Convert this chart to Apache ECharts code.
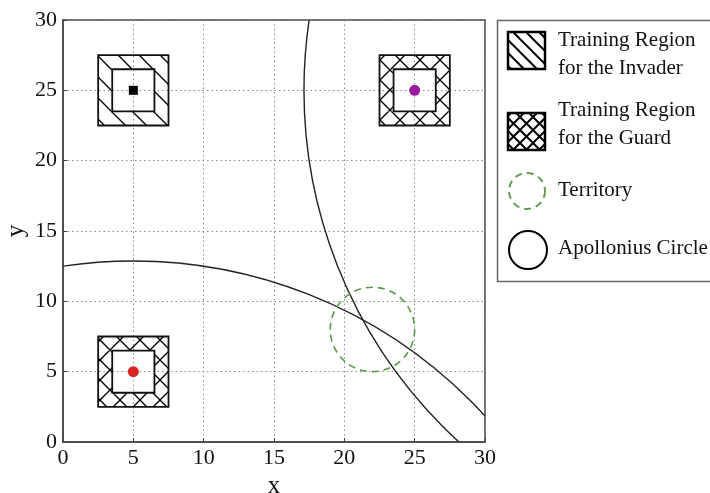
<!DOCTYPE html>
<html>
<head>
<meta charset="utf-8">
<script src="https://cdn.jsdelivr.net/npm/echarts@6/dist/echarts.min.js"></script>
<style>
html,body{margin:0;padding:0;background:#fff;}
#chart{width:710px;height:493px;}
</style>
</head>
<body>
<div id="chart"></div>
<script>
// ---- data ----
const axisTicks = [0, 5, 10, 15, 20, 25, 30];
const regionCenterX = [5, 25, 5];
const regionCenterY = [25, 25, 5];
const regionOuterHalf = [2.5, 2.5, 2.5];
const regionInnerHalf = [1.5, 1.5, 1.5];
const regionHatch = ['single', 'cross', 'cross'];
const agentX = [5, 25, 5];
const agentY = [25, 25, 5];
const agentColor = ['#000000', '#9b1c9b', '#d92424'];
const agentShape = ['rect', 'circle', 'circle'];
const territoryCenter = [22, 8];
const territoryRadius = [3];
const apolloniusCenterX = [5, 51];
const apolloniusCenterY = [-21, 25];
const apolloniusRadius = [33.87, 33.87];
const legendLabels = ['Training Region\nfor the Invader', 'Training Region\nfor the Guard', 'Territory', 'Apollonius Circle'];

const FONT = 'Liberation Serif';

function makePattern(step, cross, lw) {
  const c = document.createElement('canvas');
  c.width = step; c.height = step;
  const ctx = c.getContext('2d');
  ctx.strokeStyle = '#000';
  ctx.lineWidth = lw;
  for (const k of [-step, 0, step]) {
    ctx.beginPath(); ctx.moveTo(k - 1, -1); ctx.lineTo(k + step + 1, step + 1); ctx.stroke();
    if (cross) {
      ctx.beginPath(); ctx.moveTo(k + step + 1, -1); ctx.lineTo(k - 1, step + 1); ctx.stroke();
    }
  }
  return { image: c, repeat: 'repeat' };
}
const patSingle = makePattern(21, false, 1.3);
const patCross = makePattern(20, true, 1.3);
const patSingleL = makePattern(13, false, 2);
const patCrossL = makePattern(13, true, 2);

const chart = echarts.init(document.getElementById('chart'), null, { renderer: 'canvas' });

const regionData = regionCenterX.map((x, i) => [x, regionCenterY[i], regionOuterHalf[i], regionInnerHalf[i], i]);

function renderRegion(params, api) {
  const cx = api.value(0), cy = api.value(1), ho = api.value(2), hi = api.value(3), idx = api.value(4);
  const tl = api.coord([cx - ho, cy + ho]);
  const br = api.coord([cx + ho, cy - ho]);
  const itl = api.coord([cx - hi, cy + hi]);
  const ibr = api.coord([cx + hi, cy - hi]);
  const pat = regionHatch[idx] === 'cross' ? patCross : patSingle;
  const strips = [
    [tl[0], tl[1], br[0] - tl[0], itl[1] - tl[1]],
    [tl[0], ibr[1], br[0] - tl[0], br[1] - ibr[1]],
    [tl[0], itl[1], itl[0] - tl[0], ibr[1] - itl[1]],
    [ibr[0], itl[1], br[0] - ibr[0], ibr[1] - itl[1]]
  ];
  const children = strips.map(s => ({ type: 'rect', shape: { x: s[0], y: s[1], width: s[2], height: s[3] }, style: { fill: pat, stroke: null } }));
  children.push({ type: 'rect', shape: { x: tl[0], y: tl[1], width: br[0] - tl[0], height: br[1] - tl[1] }, style: { fill: null, stroke: '#111', lineWidth: 1.8 } });
  children.push({ type: 'rect', shape: { x: itl[0], y: itl[1], width: ibr[0] - itl[0], height: ibr[1] - itl[1] }, style: { fill: null, stroke: '#111', lineWidth: 1.8 } });
  return { type: 'group', children };
}

function circleRenderer(stroke, dash, lw) {
  return function (params, api) {
    const c = api.coord([api.value(0), api.value(1)]);
    const r = api.size([api.value(2), 0])[0];
    return { type: 'circle', shape: { cx: c[0], cy: c[1], r }, style: { fill: null, stroke, lineWidth: lw, lineDash: dash } };
  };
}

const apolloniusData = apolloniusCenterX.map((x, i) => [x, apolloniusCenterY[i], apolloniusRadius[i]]);
const territoryData = [[territoryCenter[0], territoryCenter[1], territoryRadius[0]]];

const axisCommon = {
  type: 'value', min: 0, max: 30, interval: 5,
  axisLine: { show: true, onZero: false, lineStyle: { color: '#444', width: 1.5 } },
  axisTick: { show: true, inside: true, length: 4, lineStyle: { color: '#444' } },
  axisLabel: { color: '#111', fontFamily: FONT, fontSize: 22, formatter: v => axisTicks.includes(v) ? String(v) : '' },
  splitLine: { show: true, lineStyle: { color: '#888', type: [1.5, 3], width: 1 } },
  nameTextStyle: { color: '#111', fontFamily: FONT, fontSize: 25 }
};

const lx = 508, lw = 37;
const graphic = [
  { type: 'rect', shape: { x: 497.5, y: 20.5, width: 230, height: 261 }, style: { fill: '#fff', stroke: '#666', lineWidth: 1.5 }, z: 1 },
  { type: 'rect', shape: { x: lx, y: 32, width: lw, height: 37 }, style: { fill: patSingleL, stroke: '#000', lineWidth: 2.5 }, z: 2 },
  { type: 'rect', shape: { x: lx, y: 113, width: lw, height: 37 }, style: { fill: patCrossL, stroke: '#000', lineWidth: 2.5 }, z: 2 },
  { type: 'circle', shape: { cx: 527, cy: 191, r: 18 }, style: { fill: null, stroke: '#6a9a55', lineWidth: 2, lineDash: [7, 5] }, z: 2 },
  { type: 'circle', shape: { cx: 528, cy: 250, r: 19 }, style: { fill: null, stroke: '#000', lineWidth: 2 }, z: 2 },
  { type: 'text', x: 558, y: 54, style: { text: legendLabels[0], fontFamily: FONT, fontSize: 21, fill: '#111', lineHeight: 28, verticalAlign: 'middle' }, z: 2 },
  { type: 'text', x: 558, y: 124, style: { text: legendLabels[1], fontFamily: FONT, fontSize: 21, fill: '#111', lineHeight: 28, verticalAlign: 'middle' }, z: 2 },
  { type: 'text', x: 558, y: 190, style: { text: legendLabels[2], fontFamily: FONT, fontSize: 21, fill: '#111', verticalAlign: 'middle' }, z: 2 },
  { type: 'text', x: 558, y: 248, style: { text: legendLabels[3], fontFamily: FONT, fontSize: 21, fill: '#111', verticalAlign: 'middle' }, z: 2 }
];

chart.setOption({
  animation: false,
  backgroundColor: '#fff',
  grid: { left: 63, top: 20, width: 422, height: 422, containLabel: false, outerBoundsMode: 'none', show: true, borderColor: '#444', borderWidth: 1.5, backgroundColor: 'transparent' },
  xAxis: Object.assign({}, axisCommon, { name: 'x', nameLocation: 'middle', nameGap: 29, axisLabel: Object.assign({}, axisCommon.axisLabel, { margin: 5 }) }),
  yAxis: Object.assign({}, axisCommon, { name: 'y', nameLocation: 'middle', nameGap: 34, nameMoveOverlap: false, axisLabel: Object.assign({}, axisCommon.axisLabel, { margin: 6 }) }),
  graphic,
  series: [
    { type: 'custom', coordinateSystem: 'cartesian2d', data: regionData, renderItem: renderRegion, clip: true, z: 2, silent: true },
    { type: 'custom', coordinateSystem: 'cartesian2d', data: apolloniusData, renderItem: circleRenderer('#222', null, 1.4), clip: true, z: 3, silent: true },
    { type: 'custom', coordinateSystem: 'cartesian2d', data: territoryData, renderItem: circleRenderer('#5e9650', [7, 5], 1.6), clip: true, z: 3, silent: true },
    {
      type: 'scatter', z: 4, silent: true,
      data: agentX.map((x, i) => ({ value: [x, agentY[i]], symbol: agentShape[i], symbolSize: agentShape[i] === 'rect' ? 9 : 11, itemStyle: { color: agentColor[i], opacity: 1 } }))
    }
  ]
});
</script>
</body>
</html>
